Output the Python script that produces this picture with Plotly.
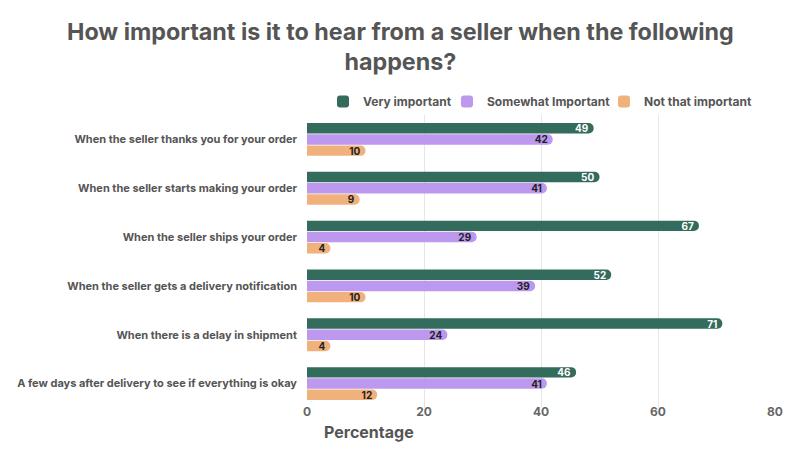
import plotly.graph_objects as go

categories = [
    "When the seller thanks you for your order",
    "When the seller starts making your order",
    "When the seller ships your order",
    "When the seller gets a delivery notification",
    "When there is a delay in shipment",
    "A few days after delivery to see if everything is okay",
]
very_important = [49, 50, 67, 52, 71, 46]
somewhat_important = [42, 41, 29, 39, 24, 41]
not_that_important = [10, 9, 4, 10, 4, 12]

series = [
    ("Very important", very_important, "#336b5c", "white", "legend"),
    ("Somewhat Important", somewhat_important, "#bc98ee", "#222222", "legend2"),
    ("Not that important", not_that_important, "#f1b17c", "#222222", "legend3"),
]

fig = go.Figure()
for name, vals, color, tcolor, lg in series:
    fig.add_trace(go.Bar(
        y=categories, x=vals, name=name, orientation="h",
        marker=dict(color=color, line=dict(width=0)),
        text=[str(v) for v in vals], textposition="inside",
        insidetextanchor="end", textangle=0,
        textfont=dict(family="Inter", size=10, color=tcolor, weight="bold"),
        hoverinfo="skip", legend=lg, showlegend=True,
    ))

# page has an 8px body margin, so the figure is 8px smaller and margins compensate
T, B = 106.5, 41.5
PH = 442 - T - B
LEG_Y = (442 - 93 - B) / PH
leg_font = dict(family="Inter", size=12, color="#555555", weight="bold")


def leg(x):
    return dict(orientation="h", x=x, xanchor="left", y=LEG_Y, yanchor="middle",
                font=leg_font, bgcolor="rgba(0,0,0,0)", visible=True)


fig.update_layout(
    width=792, height=442, showlegend=True,
    paper_bgcolor="white", plot_bgcolor="white",
    font=dict(family="Inter", color="#555555"),
    margin=dict(l=299, r=25, t=T, b=B, autoexpand=False),
    barmode="group", bargap=0.31, bargroupgap=0.07,
    barcornerradius=6,
    uniformtext=dict(minsize=8, mode="show"),
    legend=leg(16 / 468),
    legend2=leg(140 / 468),
    legend3=leg(297 / 468),
    xaxis=dict(
        range=[0, 80], tickvals=[0, 20, 40, 60, 80],
        showgrid=True, gridcolor="#e6e6e6", gridwidth=1,
        zeroline=False, showline=False,
        tickfont=dict(family="Inter", size=12, color="#666666", weight="bold"),
        ticks="", ticklen=0, ticklabelstandoff=-5,
    ),
    yaxis=dict(
        autorange="reversed", showgrid=False, showline=False, ticks="",
        ticklabelstandoff=9,
        tickfont=dict(family="Inter", size=11, color="#555555", weight="bold"),
    ),
    annotations=[
        dict(
            text="How important is it to hear from a seller when the following<br>happens?",
            xref="paper", yref="paper", x=(400 - 307) / 468, y=(442 - 38 - B) / PH,
            xanchor="center", yanchor="middle", showarrow=False, align="center",
            font=dict(family="Inter", size=23.3, color="#555555", weight="bold"),
        ),
        dict(
            text="Percentage", xref="paper", yref="paper", x=15 / 468, y=(442 - 425 - B) / PH,
            xanchor="left", yanchor="middle", showarrow=False,
            font=dict(family="Inter", size=16, color="#555555", weight="bold"),
        ),
    ],
)

fig.write_html("out.html")
